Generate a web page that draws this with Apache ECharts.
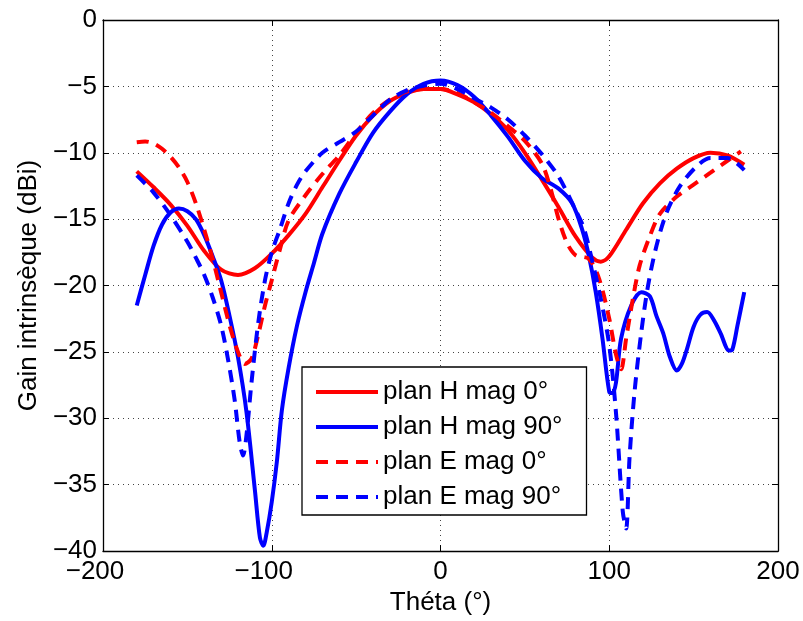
<!DOCTYPE html>
<html>
<head>
<meta charset="utf-8">
<script src="https://cdn.jsdelivr.net/npm/echarts@6/dist/echarts.min.js"></script>
<style>html,body{margin:0;padding:0;background:#fff}#c{width:803px;height:621px}</style>
</head>
<body>
<div id="c"></div>
<script>
// ---- Data ----
var xTicks = [-200, -100, 0, 100, 200];
var yTicks = [0, -5, -10, -15, -20, -25, -30, -35, -40];

var seriesNames = ['plan H mag 0°', 'plan H mag 90°', 'plan E mag 0°', 'plan E mag 90°'];

var thetaHm0 = [-180,-170,-160,-150,-140,-130,-120,-110,-100,-90,-80,-70,-60,-50,-40,-30,-20,-10,0,10,20,30,40,50,60,70,80,90,95,100,110,120,130,140,150,160,170,180];
var gainHm0  = [-11.4,-12.6,-13.9,-15.5,-17.4,-18.8,-19.2,-18.7,-17.6,-16.2,-14.6,-12.6,-10.6,-8.7,-7.2,-6.1,-5.5,-5.2,-5.2,-5.6,-6.2,-7.1,-8.3,-10.0,-12.0,-14.1,-16.3,-17.9,-18.2,-17.8,-15.8,-13.8,-12.3,-11.2,-10.4,-10.0,-10.2,-10.9];

var thetaHm90 = [-180,-175,-170,-165,-160,-155,-150,-145,-140,-135,-130,-125,-120,-115,-110,-107,-105,-103,-100,-97,-94,-90,-85,-80,-75,-70,-60,-50,-40,-30,-20,-10,0,10,20,30,40,50,60,70,78,84,88,92,96,100,102,104,107,113,119,124,128,132,136,140,143,146,150,154,158,162,166,171,173,176,180];
var gainHm90  = [-21.5,-19.2,-17.0,-15.4,-14.5,-14.2,-14.4,-15.0,-16.2,-17.8,-19.6,-22.3,-25.4,-29.5,-35.4,-39.0,-39.6,-38.6,-36.3,-33.3,-29.4,-26.2,-23.0,-20.5,-18.3,-16.1,-13.1,-10.7,-8.5,-6.9,-5.6,-4.8,-4.55,-4.9,-5.8,-7.2,-8.8,-10.6,-11.9,-12.7,-13.8,-15.8,-17.8,-20.5,-24.0,-28.0,-28.1,-27.3,-24.0,-21.5,-20.5,-20.8,-22.3,-23.6,-25.4,-26.4,-25.9,-24.8,-23.1,-22.2,-22.0,-22.6,-23.6,-24.9,-24.8,-23.0,-20.5];

var thetaEm0 = [-180,-175,-170,-165,-160,-155,-150,-145,-140,-135,-130,-125,-120,-116,-112,-108,-104,-100,-95,-90,-80,-70,-60,-50,-40,-30,-20,-10,0,10,20,30,40,50,60,65,70,75,80,88,94,100,104,107,110,114,118,124,130,140,150,160,170,178];
var gainEm0  = [-9.2,-9.15,-9.3,-9.7,-10.3,-11.1,-12.2,-13.8,-15.8,-18.0,-20.5,-23.0,-25.0,-25.9,-25.5,-23.7,-21.5,-19.6,-17.2,-15.1,-13.2,-11.6,-10.2,-8.5,-7.0,-6.0,-5.4,-5.2,-5.2,-5.5,-6.2,-7.0,-8.0,-9.1,-10.8,-12.6,-15.0,-16.8,-17.7,-18.0,-19.5,-22.5,-25.2,-26.3,-24.0,-21.0,-18.5,-16.3,-14.6,-13.3,-12.4,-11.5,-10.6,-9.9];

var thetaEm90 = [-180,-170,-160,-150,-145,-140,-135,-130,-126,-122,-119,-117,-115,-112,-108,-104,-100,-95,-90,-85,-80,-70,-60,-50,-40,-30,-20,-10,0,10,20,30,40,50,60,70,80,85,90,95,100,104,108,110,112,115,119,123,128,134,142,152,160,170,180];
var gainEm90  = [-11.7,-13.0,-14.7,-16.7,-17.9,-19.2,-20.9,-23.0,-25.5,-28.6,-31.8,-32.8,-31.3,-27.3,-22.8,-19.6,-17.5,-15.7,-13.8,-12.4,-11.4,-10.0,-9.2,-8.4,-7.2,-6.0,-5.3,-4.95,-4.8,-5.2,-5.9,-6.6,-7.5,-8.7,-10.1,-11.8,-14.3,-15.7,-18.2,-21.0,-24.5,-29.6,-37.0,-38.3,-33.0,-28.0,-23.5,-20.0,-17.0,-14.5,-12.5,-11.0,-10.4,-10.4,-11.3];

// ---- Build chart ----
function pairs(xs, ys) { return xs.map(function (x, i) { return [x, ys[i]]; }); }
var FONT = "'Liberation Sans', Arial, Helvetica, sans-serif";
var RED = '#ff0000', BLUE = '#0000ff';
var DASH = [12, 8];

function mkSeries(name, xs, ys, color, dashed) {
  return {
    name: name, type: 'line', data: pairs(xs, ys),
    showSymbol: false, symbol: 'none', smooth: 0.3,
    lineStyle: { color: color, width: 4, type: dashed ? DASH : 'solid' },
    itemStyle: { color: color },
    animation: false, z: 5
  };
}

function minusFmt(v) { return String(v).replace('-', '\u2212'); }

var chart = echarts.init(document.getElementById('c'), null, { renderer: 'canvas' });
var axisLineStyle = { color: '#000', width: 1.3 };
chart.setOption({
  backgroundColor: '#fff',
  animation: false,
  textStyle: { fontFamily: FONT },
  grid: { left: 103, right: 25, top: 20, bottom: 68, containLabel: false },
  legend: {
    data: seriesNames,
    orient: 'vertical',
    left: 302, top: 367,
    backgroundColor: '#fff',
    borderColor: '#000', borderWidth: 1.3, borderRadius: 0,
    padding: [12, 24, 5, 12],
    itemWidth: 62, itemHeight: 26, itemGap: 9,
    itemStyle: { opacity: 0, borderWidth: 0 },
    lineStyle: { width: 4 },
    textStyle: { fontFamily: FONT, fontSize: 26, color: '#000', lineHeight: 26 },
    selectedMode: false
  },
  xAxis: [{
    type: 'value', min: -200, max: 200, interval: 100, position: 'bottom',
    name: 'Théta (°)', nameLocation: 'middle', nameGap: 27,
    nameTextStyle: { fontFamily: FONT, fontSize: 26, color: '#000' },
    axisLine: { show: true, onZero: false, lineStyle: axisLineStyle },
    axisTick: { show: true, inside: true, length: 6, lineStyle: { color: '#000' } },
    axisLabel: {
      fontFamily: FONT, fontSize: 26, color: '#000', margin: 8,
      formatter: function (v) { return v < 0 ? '{n|' + minusFmt(v) + '}' : String(v); },
      rich: { n: { fontFamily: FONT, fontSize: 26, color: '#000', padding: [0, 16, 0, 0] } }
    },
    splitLine: { show: true, lineStyle: { color: '#444', width: 1, type: [1, 4] } }
  }, {
    type: 'value', min: -200, max: 200, interval: 100, position: 'top',
    axisLine: { show: true, onZero: false, lineStyle: axisLineStyle },
    axisTick: { show: true, inside: true, length: 6, lineStyle: { color: '#000' } },
    axisLabel: { show: false }, splitLine: { show: false }
  }],
  yAxis: [{
    type: 'value', min: -40, max: 0, interval: 5, position: 'left',
    name: 'Gain intrinsèque (dBi)', nameLocation: 'middle', nameGap: 60,
    nameTextStyle: { fontFamily: FONT, fontSize: 26, color: '#000' },
    axisLine: { show: true, onZero: false, lineStyle: axisLineStyle },
    axisTick: { show: true, inside: true, length: 6, lineStyle: { color: '#000' } },
    axisLabel: { fontFamily: FONT, fontSize: 26, color: '#000', margin: 6, formatter: minusFmt },
    splitLine: { show: true, lineStyle: { color: '#444', width: 1, type: [1, 4] } }
  }, {
    type: 'value', min: -40, max: 0, interval: 5, position: 'right',
    axisLine: { show: true, onZero: false, lineStyle: axisLineStyle },
    axisTick: { show: true, inside: true, length: 6, lineStyle: { color: '#000' } },
    axisLabel: { show: false }, splitLine: { show: false }
  }],
  series: [
    mkSeries(seriesNames[0], thetaHm0, gainHm0, RED, false),
    mkSeries(seriesNames[1], thetaHm90, gainHm90, BLUE, false),
    mkSeries(seriesNames[2], thetaEm0, gainEm0, RED, true),
    mkSeries(seriesNames[3], thetaEm90, gainEm90, BLUE, true)
  ]
});
</script>
</body>
</html>
